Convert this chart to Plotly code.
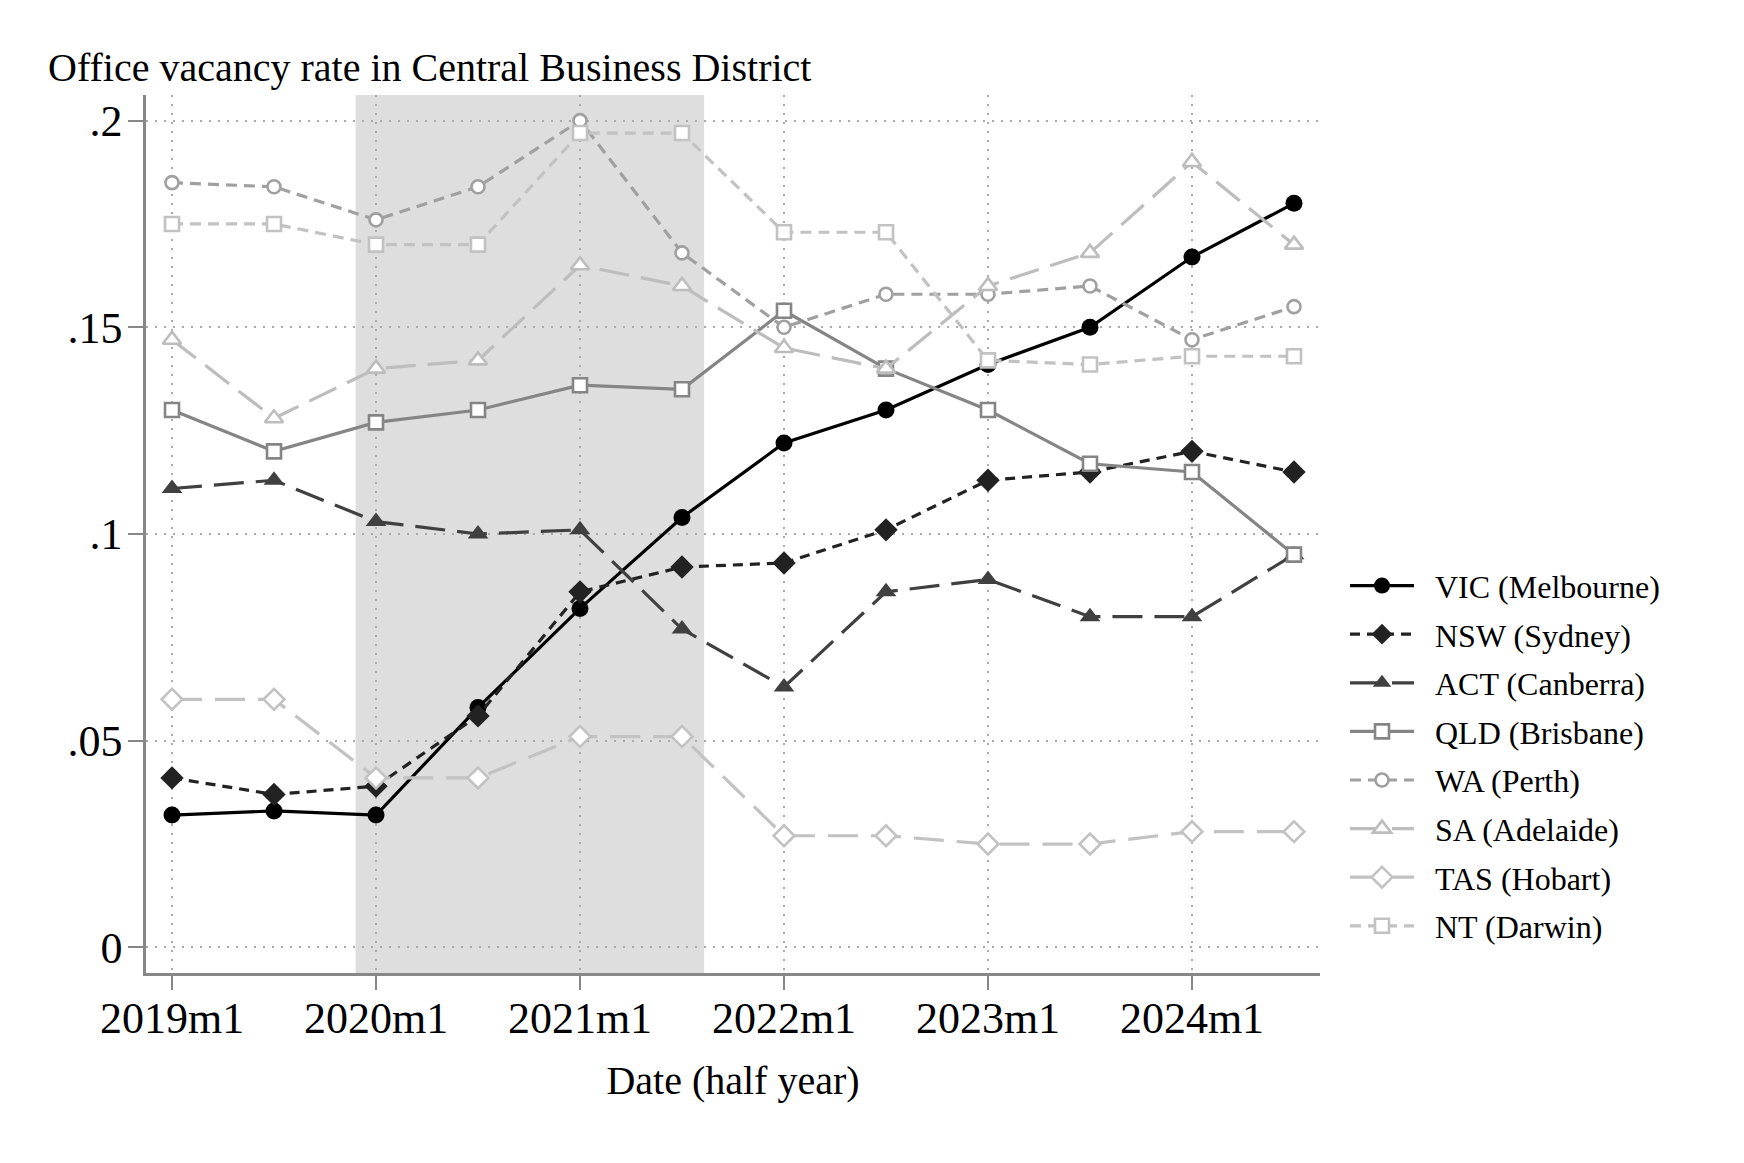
import plotly.graph_objects as go

# x positions: months since 2019m1 (half-year observations)
months = [0, 6, 12, 18, 24, 30, 36, 42, 48, 54, 60, 66]
tick_vals = [0, 12, 24, 36, 48, 60]
tick_text = ["2019m1", "2020m1", "2021m1", "2022m1", "2023m1", "2024m1"]
y_tick_vals = [0, 0.05, 0.1, 0.15, 0.2]
y_tick_text = ["0", ".05", ".1", ".15", ".2"]

vic = [0.032, 0.033, 0.032, 0.058, 0.082, 0.104, 0.122, 0.130, 0.141, 0.150, 0.167, 0.180]
nsw = [0.041, 0.037, 0.039, 0.056, 0.086, 0.092, 0.093, 0.101, 0.113, 0.115, 0.120, 0.115]
act = [0.111, 0.113, 0.103, 0.100, 0.101, 0.077, 0.063, 0.086, 0.089, 0.080, 0.080, 0.095]
qld = [0.130, 0.120, 0.127, 0.130, 0.136, 0.135, 0.154, 0.140, 0.130, 0.117, 0.115, 0.095]
wa = [0.185, 0.184, 0.176, 0.184, 0.200, 0.168, 0.150, 0.158, 0.158, 0.160, 0.147, 0.155]
sa = [0.147, 0.128, 0.140, 0.142, 0.165, 0.160, 0.145, 0.140, 0.160, 0.168, 0.190, 0.170]
tas = [0.060, 0.060, 0.041, 0.041, 0.051, 0.051, 0.027, 0.027, 0.025, 0.025, 0.028, 0.028]
nt = [0.175, 0.175, 0.170, 0.170, 0.197, 0.197, 0.173, 0.173, 0.142, 0.141, 0.143, 0.143]

# shaded period (in months since 2019m1)
shade_start = 10.8
shade_end = 31.3

FONT = "Liberation Serif, Times New Roman, serif"
PAD = "\u00a0\u00a0"

series = [
    ("VIC (Melbourne)", vic, "#000000", "solid", "circle", 17, "#000000"),
    ("NSW (Sydney)", nsw, "#222222", "10px,7px", "diamond", 18, "#222222"),
    ("ACT (Canberra)", act, "#404040", "30px,12px", "triangle-up", 18, "#404040"),
    ("QLD (Brisbane)", qld, "#858585", "solid", "square", 14, "white"),
    ("WA (Perth)", wa, "#a0a0a0", "11px,7px", "circle", 13, "white"),
    ("SA (Adelaide)", sa, "#bdbdbd", "30px,12px", "triangle-up", 16, "white"),
    ("TAS (Hobart)", tas, "#c2c2c2", "30px,13px", "diamond", 16, "white"),
    ("NT (Darwin)", nt, "#c2c2c2", "11px,7px", "square", 14, "white"),
]

fig = go.Figure()
for i, (name, vals, col, dash, sym, size, fill) in enumerate(series):
    fig.add_trace(go.Scatter(
        x=months, y=vals, name=PAD + name, mode="lines+markers",
        legendgroup=f"g{i}",
        line=dict(color=col, width=3.2, dash=dash),
        marker=dict(symbol=sym, size=size, color=fill,
                    line=dict(color=col, width=2.6 if fill == "white" else 0)),
    ))

fig.add_shape(type="rect", xref="x", yref="paper", x0=shade_start, x1=shade_end,
              y0=0, y1=1, fillcolor="#dedede", line=dict(width=0), layer="below")

fig.update_layout(
    width=1744, height=1163,
    margin=dict(l=138, r=432, t=87, b=198),
    paper_bgcolor="white", plot_bgcolor="white",
    font=dict(family=FONT, color="black"),
    title=dict(text="Office vacancy rate in Central Business District",
               xref="container", yref="container", x=40 / 1744, xanchor="left",
               y=1 - 59 / 1163, yanchor="middle",
               font=dict(family=FONT, size=40, color="black")),
    legend=dict(x=1.0213, xanchor="left", y=0.2474, yanchor="middle",
                font=dict(family=FONT, size=32, color="black"),
                bgcolor="rgba(0,0,0,0)", tracegroupgap=4, itemwidth=64),
    showlegend=True,
)

fig.update_xaxes(
    range=[-1.53, 67.53], tickvals=tick_vals, ticktext=tick_text,
    showline=True, linecolor="#888888", linewidth=2.5,
    ticks="outside", ticklen=14, tickwidth=2, tickcolor="#888888",
    ticklabelstandoff=-10,
    tickfont=dict(family=FONT, size=44, color="black"),
    showgrid=True, gridcolor="#aaaaaa", gridwidth=1.5, griddash="2px,7px",
    zeroline=False,
    title=dict(text="Date (half year)", font=dict(family=FONT, size=40, color="black"),
               standoff=25),
)
fig.update_yaxes(
    range=[-0.0062, 0.2062], tickvals=y_tick_vals, ticktext=y_tick_text,
    showline=True, linecolor="#888888", linewidth=2.5,
    ticks="outside", ticklen=15, tickwidth=2, tickcolor="#888888",
    ticklabelstandoff=-3,
    tickfont=dict(family=FONT, size=44, color="black"),
    showgrid=True, gridcolor="#aaaaaa", gridwidth=1.5, griddash="2px,7px",
    zeroline=False,
)

fig.write_html("out.html")
